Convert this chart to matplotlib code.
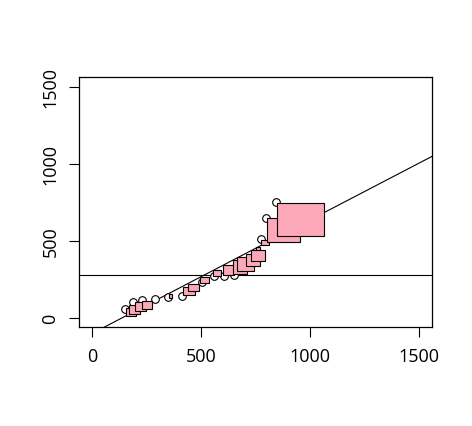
import numpy as np
import matplotlib.pyplot as plt
from matplotlib.patches import Rectangle

plt.rcParams['font.family'] = ['Open Sans', 'DejaVu Sans']

# punkty (kolka)
pkt_x = [153, 190, 230, 288, 350, 413, 505, 559, 604, 650, 776, 801, 845]
pkt_y = [60, 106, 115, 125, 135, 144, 235, 274, 272, 276, 514, 648, 751]

# prostokaty: lewa krawedz, prawa krawedz, dol, gora
prost_x0 = [157, 171, 199, 229, 353, 417, 439, 497, 556, 602, 648, 667, 707, 730, 753, 776, 804, 850]
prost_x1 = [204, 222, 249, 275, 369, 474, 490, 536, 593, 654, 712, 745, 773, 796, 773, 811, 954, 1067]
prost_y0 = [15, 28, 47, 60, 132, 151, 175, 228, 272, 280, 287, 306, 339, 367, 438, 475, 496, 531]
prost_y1 = [67, 86, 106, 112, 154, 203, 220, 266, 311, 341, 373, 397, 417, 442, 462, 509, 648, 747]

# linia regresji i srednia
wyraz_wolny = -100
nachylenie = 0.735
srednia_y = 280

ticki = [0, 500, 1000, 1500]

fig = plt.figure(figsize=(4.72, 4.27), dpi=100)
ax = fig.add_axes([0.1674, 0.2311, 0.9146 - 0.1674, 0.8166 - 0.2311])

ax.axline((0, wyraz_wolny), slope=nachylenie, color='black', lw=0.8, zorder=1)
ax.axhline(srednia_y, color='black', lw=0.8, zorder=1)

ax.plot(pkt_x, pkt_y, 'o', markersize=5.5, markerfacecolor='white',
        markeredgecolor='black', markeredgewidth=0.8, zorder=2)

for x0, x1, y0, y1 in zip(prost_x0, prost_x1, prost_y0, prost_y1):
    ax.add_patch(Rectangle((x0, y0), x1 - x0, y1 - y0, facecolor='#FCA8B8',
                           edgecolor='black', lw=0.8, zorder=3))

ax.set_xlim(-60, 1560)
ax.set_ylim(-60, 1560)
ax.set_xticks(ticks=ticki, labels=[str(t) for t in ticki])
ax.set_yticks(ticks=ticki, labels=[str(t) for t in ticki])
ax.tick_params(direction='out', length=7, width=0.8, labelsize=13, pad=7)
for lab in ax.get_yticklabels():
    lab.set_rotation(90)
    lab.set_va('center')
for s in ax.spines.values():
    s.set_linewidth(0.9)

fig.savefig('out.png', dpi=100)
